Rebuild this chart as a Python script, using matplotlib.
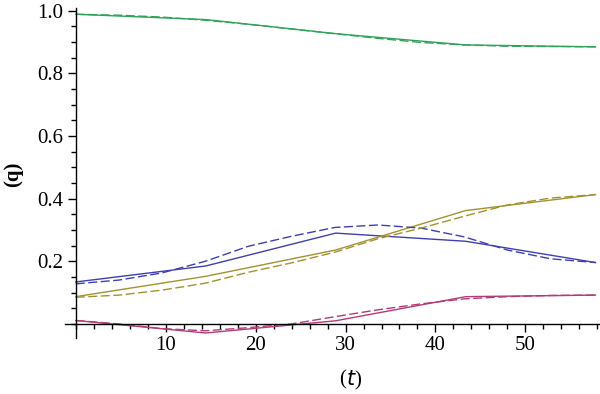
import matplotlib
matplotlib.use("Agg")
import matplotlib.pyplot as plt
from matplotlib.ticker import MultipleLocator, FixedLocator

# Solid (piecewise-linear) series
t_knots = [0.0, 14.45, 28.9, 43.35, 57.8]
green_solid = [0.989, 0.972, 0.927, 0.891, 0.885]
blue_solid = [0.134, 0.185, 0.290, 0.264, 0.196]
olive_solid = [0.087, 0.152, 0.236, 0.362, 0.413]
magenta_solid = [0.011, -0.029, 0.010, 0.087, 0.092]

# Dashed (smooth) series
t_dense = [0.0, 4.8, 9.6, 14.4, 19.2, 24.0, 28.8, 33.6, 38.4, 43.2, 48.0, 52.8, 57.8]
green_dashed = [0.989, 0.986, 0.980, 0.970, 0.957, 0.942, 0.927, 0.912, 0.899, 0.891, 0.887, 0.886, 0.885]
blue_dashed = [0.128, 0.140, 0.163, 0.200, 0.248, 0.280, 0.308, 0.316, 0.306, 0.278, 0.236, 0.208, 0.196]
olive_dashed = [0.085, 0.092, 0.108, 0.130, 0.165, 0.195, 0.229, 0.272, 0.306, 0.344, 0.380, 0.402, 0.413]
magenta_dashed = [0.011, 0.000, -0.015, -0.022, -0.012, 0.000, 0.023, 0.045, 0.064, 0.080, 0.087, 0.091, 0.092]

y_ticks = [0.2, 0.4, 0.6, 0.8, 1.0]
y_tick_labels = ["0.2", "0.4", "0.6", "0.8", "1.0"]
x_ticks = [10, 20, 30, 40, 50]
x_tick_labels = ["10", "20", "30", "40", "50"]

c_green = "#2fa35a"
c_blue = "#3f3fb2"
c_olive = "#a39330"
c_magenta = "#b53a78"

plt.rcParams['font.family'] = ['Liberation Serif', 'DejaVu Serif']

fig = plt.figure(figsize=(6.0, 3.94), dpi=100)
ax = fig.add_axes([65/600, 1 - 338/394, (600-65)/600, (338-8)/394])

lw = 1.0
dash = (6.5, 2.5)
for ys, c in [(green_solid, c_green), (blue_solid, c_blue), (olive_solid, c_olive), (magenta_solid, c_magenta)]:
    ax.plot(t_knots, ys, color=c, lw=lw, solid_joinstyle='miter')
for ys, c in [(green_dashed, c_green), (blue_dashed, c_blue), (olive_dashed, c_olive), (magenta_dashed, c_magenta)]:
    ax.plot(t_dense, ys, color=c, lw=lw, dashes=dash)

ax.set_xlim(-1.2, 58.3)
ax.set_ylim(-0.045, 1.009)

for s in ['top', 'right']:
    ax.spines[s].set_visible(False)
ax.spines['left'].set_position(('data', 0))
ax.spines['bottom'].set_position(('data', 0))
ax.spines['left'].set_linewidth(1.0)
ax.spines['bottom'].set_linewidth(1.0)

ax.xaxis.set_major_locator(FixedLocator(x_ticks))
ax.set_xticklabels(x_tick_labels)
ax.yaxis.set_major_locator(FixedLocator(y_ticks))
ax.set_yticklabels(y_tick_labels)
ax.xaxis.set_minor_locator(MultipleLocator(2))
ax.yaxis.set_minor_locator(MultipleLocator(0.05))

ax.tick_params(which='major', direction='out', length=6, width=1.0, labelsize=15, pad=3)
ax.tick_params(which='minor', direction='out', length=3.5, width=1.0)

fig.text(13/600, 1 - 174/394, "(q)", rotation=90, fontsize=15, fontweight='bold',
         ha='center', va='center')
fig.text(346/600, 1 - 380/394, "(", fontsize=15, ha='right', va='center')
fig.text(346/600, 1 - 380/394, r"$\mathit{t}$)", fontsize=15, ha='left', va='center')

fig.savefig("out.png", dpi=100)
